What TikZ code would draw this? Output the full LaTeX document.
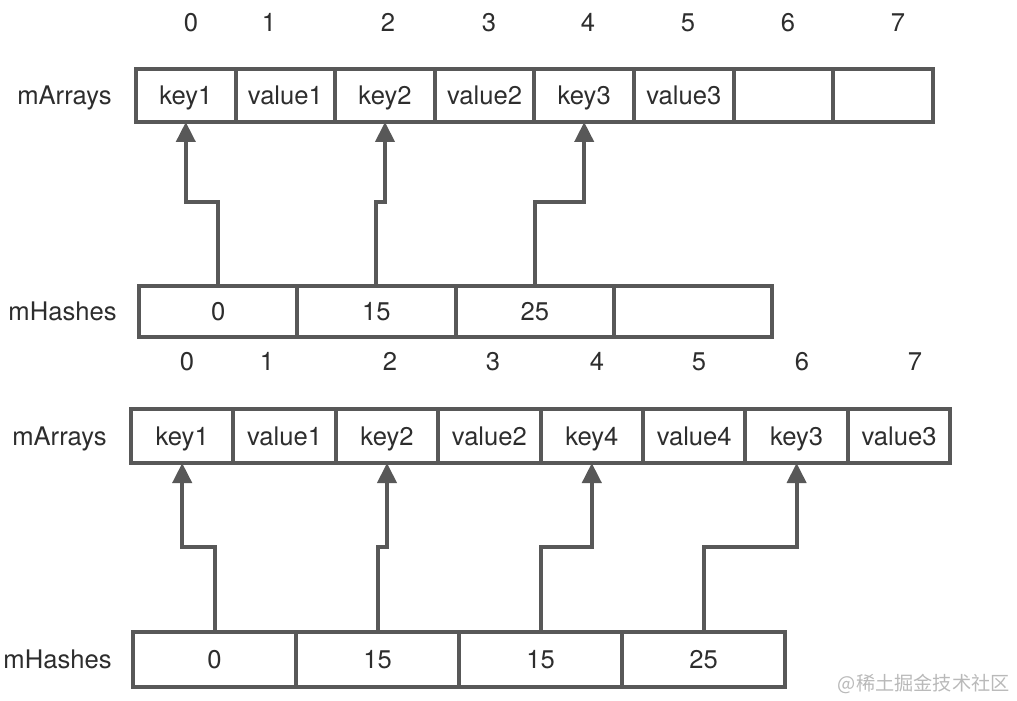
\documentclass[tikz,border=0pt]{standalone}
\usepackage{fontspec}
\setmainfont{TeX Gyre Heros}
\newfontfamily\cjkfont{Noto Sans CJK SC}
\usepackage{xcolor}
\usepackage{tikz}
\usetikzlibrary{arrows.meta, positioning}
\definecolor{cellgray}{RGB}{88,88,88}
\definecolor{inkgray}{RGB}{45,45,45}
\tikzset{
  txt/.style={text=inkgray, font=\fontsize{12.8}{15}\selectfont, text height=9.2pt, text depth=0pt, inner sep=0pt},
  cell/.style={txt, draw=cellgray, line width=2pt, outer sep=0pt},
  rowlabel/.style={txt, anchor=east},
  ptr/.style={draw=cellgray, line width=2pt, -{Triangle[width=9.5pt,length=10pt]}}
}

\begin{document}
\begin{tikzpicture}[x=0.5pt, y=-0.5pt]
  \useasboundingbox (0,0) rectangle (1017,701);
  % before growing: three pairs, two free slots
  \begin{scope}
    \foreach \t [count=\i from 0] in {key1,value1,key2,value2,key3,value3,{},{}}
      \node[cell, minimum width=49.8pt, minimum height=26.5pt] (ta\i) at ({136+99.6*(\i+0.5)},95.5) {\t};
    \foreach \t [count=\i from 0] in {0,15,25,{}}
      \node[cell, minimum width=79.15pt, minimum height=25.5pt] (th\i) at ({139+158.3*(\i+0.5)},311.5) {\t};
    \foreach \x [count=\i from 0] in {191,269,388,489,588,688,788,898}
      \node[txt] (ti\i) at (\x,22) {\i};
    \node[rowlabel, left=12pt of ta0] (tal) {mArrays};
    \node[rowlabel, left=11pt of th0] (thl) {mHashes};
    \draw[ptr] (th0.north) -- ++(0,-84) -| (ta0.south);
    \draw[ptr] (th1.north) -- ++(0,-84) -| (ta2.south);
    \draw[ptr] (th2.north) -- ++(0,-84) -| (ta4.south);
  \end{scope}
  % after insert: key4 sorted in before key3
  \begin{scope}
    \foreach \t [count=\i from 0] in {key1,value1,key2,value2,key4,value4,key3,value3}
      \node[cell, minimum width=51.2pt, minimum height=27pt] (ba\i) at ({131+102.4*(\i+0.5)},436) {\t};
    \foreach \t [count=\i from 0] in {0,15,15,25}
      \node[cell, minimum width=81.5pt, minimum height=27.5pt] (bh\i) at ({133+163*(\i+0.5)},659.5) {\t};
    \foreach \x [count=\i from 0] in {187,267,390,493,597,699,802,915}
      \node[txt] (bi\i) at (\x,361) {\i};
    \node[rowlabel, left=12pt of ba0] (bal) {mArrays};
    \node[rowlabel, left=10.5pt of bh0] (bhl) {mHashes};
    \draw[ptr] (bh0.north) -- ++(0,-85) -| (ba0.south);
    \draw[ptr] (bh1.north) -- ++(0,-85) -| (ba2.south);
    \draw[ptr] (bh2.north) -- ++(0,-85) -| (ba4.south);
    \draw[ptr] (bh3.north) -- ++(0,-85) -| (ba6.south);
  \end{scope}
  \node[text=gray!55, font=\cjkfont\fontsize{9.6}{12}\selectfont, inner sep=0pt, anchor=east] (wm) at (1010,684) {@稀土掘金技术社区};
\end{tikzpicture}
\end{document}
